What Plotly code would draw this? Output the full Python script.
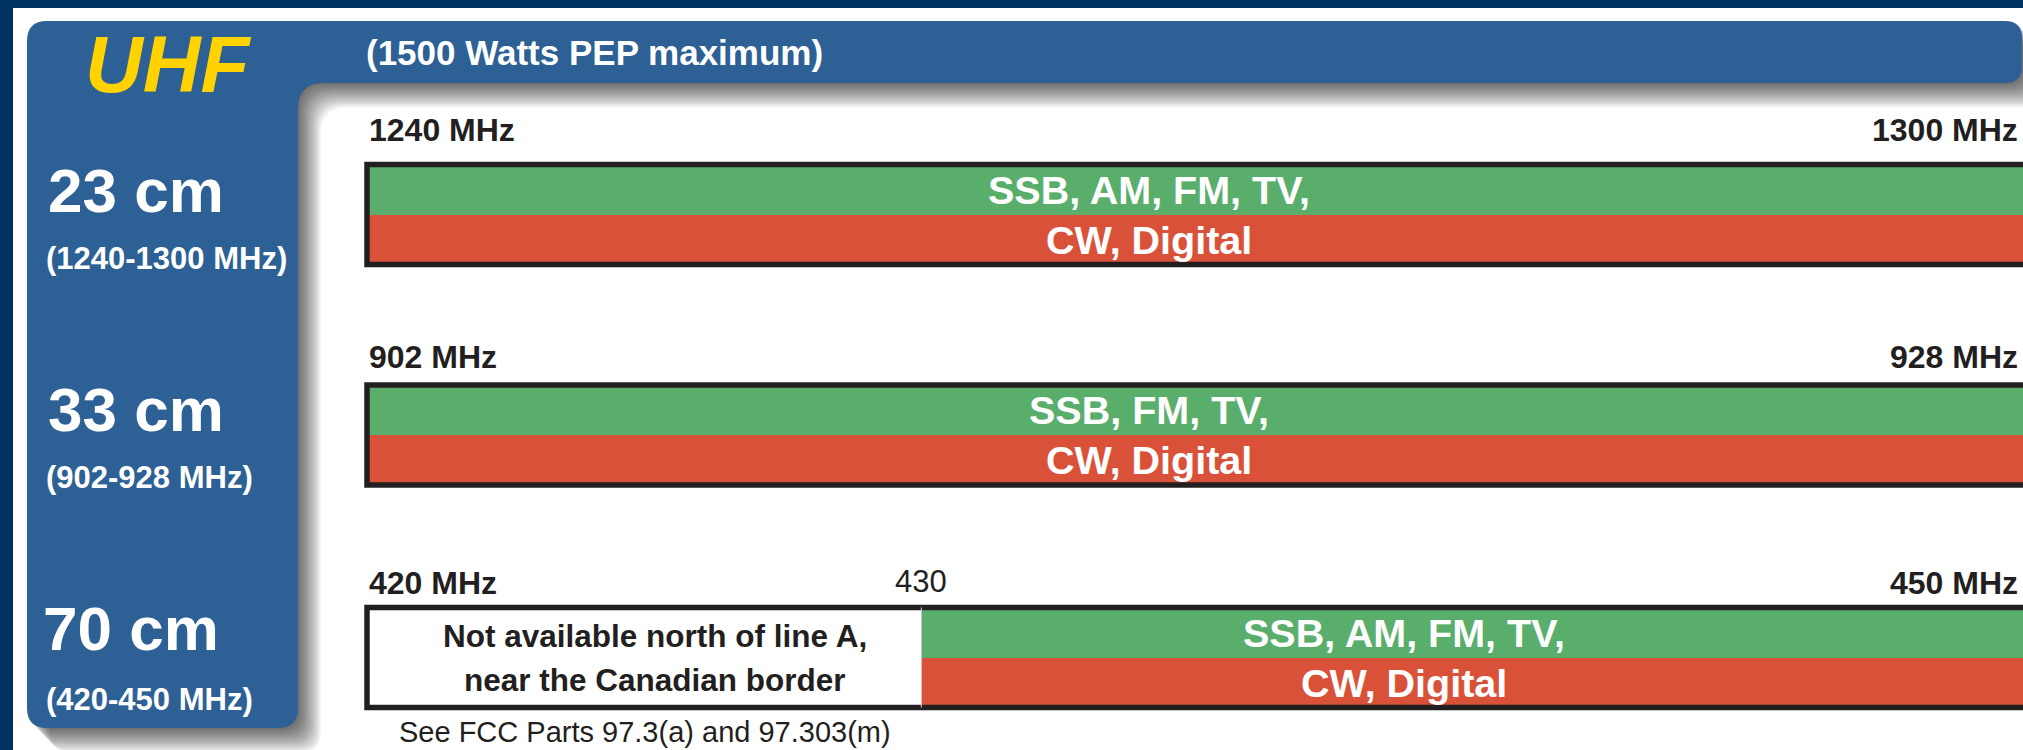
import plotly.graph_objects as go

# ---------------- data ----------------
bands = ["23 cm", "33 cm", "70 cm"]
band_ranges = ["(1240-1300 MHz)", "(902-928 MHz)", "(420-450 MHz)"]
band_start = [1240, 902, 420]          # MHz
band_end = [1300, 928, 450]            # MHz
open_start = [1240, 902, 430]          # MHz where all-mode segment begins
start_labels = ["1240 MHz", "902 MHz", "420 MHz"]
end_labels = ["1300 MHz", "928 MHz", "450 MHz"]
phone_modes = ["SSB, AM, FM, TV,", "SSB, FM, TV,", "SSB, AM, FM, TV,"]
cw_modes = ["CW, Digital", "CW, Digital", "CW, Digital"]
restricted_text = ["Not available north of line A,", "near the Canadian border"]
split_label = "430"
title_text = "UHF"
power_text = "(1500 Watts PEP maximum)"
note_text = "See FCC Parts 97.3(a) and 97.303(m)"

# ---------------- layout helpers ----------------
W, H = 2023, 750
def px(x): return x / W
def py(y): return 1 - y / H

FONT = "Liberation Sans, Arial, Helvetica, sans-serif"
GREEN = "#5AAE6C"
RED = "#DA5139"
BORDER = "#231F20"
BLUE = "#2D6095"
NAVY = "#00325F"
YELLOW = "#FFD200"
DARK = "#231F20"

bar_top = [164.5, 385, 607.5]      # px, border centre lines
bar_bot = [264.5, 485, 707.5]
X0, XEND, DOM0 = 367, 2030, 360
label_y = [130, 357, 583]
mode_x = [1149, 1149, 1404]
name_x = [46, 46, 41]
name_y = [190, 409, 628]
range_y = [258, 477, 699]

fig = go.Figure()
shapes = []
annotations = []
layout_axes = {}

# frame
shapes.append(dict(type="rect", xref="paper", yref="paper", x0=0, x1=1, y0=py(8), y1=1,
                   fillcolor=NAVY, line_width=0, layer="below"))
shapes.append(dict(type="rect", xref="paper", yref="paper", x0=0, x1=px(13), y0=0, y1=1,
                   fillcolor=NAVY, line_width=0, layer="below"))

def L_path(dx=0.0, dy=0.0):
    def P(x, y):
        return f"{px(x + dx):.6f},{py(y + dy):.6f}"
    r, rh, ri = 20, 17, 26
    return (f"M{P(27 + r, 21)} L{P(2022 - rh, 21)} Q{P(2022, 21)} {P(2022, 21 + rh)} "
            f"L{P(2022, 83 - rh)} Q{P(2022, 83)} {P(2022 - rh, 83)} "
            f"L{P(298 + ri, 83)} Q{P(298, 83)} {P(298, 83 + ri)} "
            f"L{P(298, 728 - r)} Q{P(298, 728)} {P(298 - r, 728)} "
            f"L{P(27 + r, 728)} Q{P(27, 728)} {P(27, 728 - r)} "
            f"L{P(27, 21 + r)} Q{P(27, 21)} {P(27 + r, 21)} Z")

# drop shadow
for k in range(1, 27):
    shapes.append(dict(type="path", xref="paper", yref="paper", path=L_path(k * 0.9, k * 0.95),
                       fillcolor="rgba(0,0,0,0.027)", line_width=0, layer="below"))
shapes.append(dict(type="path", xref="paper", yref="paper", path=L_path(),
                   fillcolor=BLUE, line_width=0, layer="below"))

# bands
for i in range(3):
    ax = "" if i == 0 else str(i + 1)
    f0, f1 = band_start[i], band_end[i]
    k = (XEND - X0) / (f1 - f0)
    r0 = f0 - (X0 - DOM0) / k
    r1 = f0 + (W - X0) / k
    s = (bar_bot[i] - bar_top[i]) / 2
    pad = 5
    layout_axes["xaxis" + ax] = dict(domain=[px(DOM0), 1], range=[r0, r1], visible=False,
                                     fixedrange=True, anchor="y" + ax)
    layout_axes["yaxis" + ax] = dict(domain=[py(bar_bot[i] + pad), py(bar_top[i] - pad)],
                                     range=[-0.5 - pad / s, 1.5 + pad / s], visible=False,
                                     fixedrange=True, anchor="x" + ax)
    o = open_start[i]
    if o > f0:
        fig.add_trace(go.Bar(orientation="h", base=[f0], x=[o - f0], y=[0.5], width=2,
                             marker=dict(color="white", line=dict(width=0)),
                             xaxis="x" + ax, yaxis="y" + ax, showlegend=False, hoverinfo="skip"))
    fig.add_trace(go.Bar(orientation="h", base=[o], x=[f1 - o], y=[1], width=1,
                         marker=dict(color=GREEN, line=dict(width=0)),
                         xaxis="x" + ax, yaxis="y" + ax, showlegend=False, hoverinfo="skip"))
    fig.add_trace(go.Bar(orientation="h", base=[o], x=[f1 - o], y=[0], width=1,
                         marker=dict(color=RED, line=dict(width=0)),
                         xaxis="x" + ax, yaxis="y" + ax, showlegend=False, hoverinfo="skip"))
    shapes.append(dict(type="rect", xref="x" + ax, yref="y" + ax, x0=f0, x1=f1, y0=-0.5, y1=1.5,
                       line=dict(color=BORDER, width=5.5), fillcolor="rgba(0,0,0,0)", layer="above"))
    if o > f0:
        shapes.append(dict(type="line", xref="x" + ax, yref="y" + ax, x0=o, x1=o, y0=-0.5, y1=1.5,
                           line=dict(color="#D8D8D8", width=1), layer="above"))

    # frequency labels
    annotations.append(dict(x=f0, xref="x" + ax, y=py(label_y[i]), yref="paper", text=start_labels[i],
                            xanchor="left", yanchor="middle", showarrow=False,
                            font=dict(family=FONT, size=32, color=DARK, weight="bold")))
    annotations.append(dict(x=px(2020), xref="paper", y=py(label_y[i]), yref="paper", text=end_labels[i],
                            xanchor="right", yanchor="middle", showarrow=False,
                            font=dict(family=FONT, size=32, color=DARK, weight="bold")))
    # mode labels
    annotations.append(dict(x=px(mode_x[i]), xref="paper", y=1, yref="y" + ax, text=phone_modes[i],
                            xanchor="center", yanchor="middle", showarrow=False,
                            font=dict(family=FONT, size=39.5, color="white", weight="bold")))
    annotations.append(dict(x=px(mode_x[i]), xref="paper", y=0, yref="y" + ax, text=cw_modes[i],
                            xanchor="center", yanchor="middle", showarrow=False,
                            font=dict(family=FONT, size=39.5, color="white", weight="bold")))
    # left panel
    annotations.append(dict(x=px(name_x[i]), xref="paper", y=py(name_y[i]), yref="paper", text=bands[i],
                            xanchor="left", yanchor="middle", showarrow=False,
                            font=dict(family=FONT, size=62, color="white", weight="bold")))
    annotations.append(dict(x=px(44), xref="paper", y=py(range_y[i]), yref="paper", text=band_ranges[i],
                            xanchor="left", yanchor="middle", showarrow=False,
                            font=dict(family=FONT, size=31, color="white", weight="bold")))

# 70 cm extras
annotations.append(dict(x=open_start[2], xref="x3", y=py(581), yref="paper", text=split_label,
                        xanchor="center", yanchor="middle", showarrow=False,
                        font=dict(family=FONT, size=31, color=DARK)))
annotations.append(dict(x=px(655), xref="paper", y=py(636), yref="paper", text=restricted_text[0],
                        xanchor="center", yanchor="middle", showarrow=False,
                        font=dict(family=FONT, size=31.5, color=DARK, weight="bold")))
annotations.append(dict(x=px(655), xref="paper", y=py(680), yref="paper", text=restricted_text[1],
                        xanchor="center", yanchor="middle", showarrow=False,
                        font=dict(family=FONT, size=31.5, color=DARK, weight="bold")))
annotations.append(dict(x=px(397), xref="paper", y=py(732), yref="paper", text=note_text,
                        xanchor="left", yanchor="middle", showarrow=False,
                        font=dict(family=FONT, size=29, color=DARK)))

# titles
annotations.append(dict(x=px(168), xref="paper", y=py(64), yref="paper", text=title_text,
                        xanchor="center", yanchor="middle", showarrow=False,
                        font=dict(family=FONT, size=80, color=YELLOW, weight="bold", style="italic")))
annotations.append(dict(x=px(364), xref="paper", y=py(53), yref="paper", text=power_text,
                        xanchor="left", yanchor="middle", showarrow=False,
                        font=dict(family=FONT, size=35, color="white", weight="bold")))

fig.update_layout(
    width=W, height=H,
    margin=dict(l=0, r=0, t=0, b=0),
    paper_bgcolor="white", plot_bgcolor="rgba(0,0,0,0)",
    barmode="overlay", bargap=0,
    showlegend=False,
    shapes=shapes, annotations=annotations,
    **layout_axes,
)

fig.write_html("out.html", config={"displayModeBar": False},
               post_script="document.body.style.margin='0';document.body.style.overflow='hidden';"
                           "document.documentElement.style.overflow='hidden';")
